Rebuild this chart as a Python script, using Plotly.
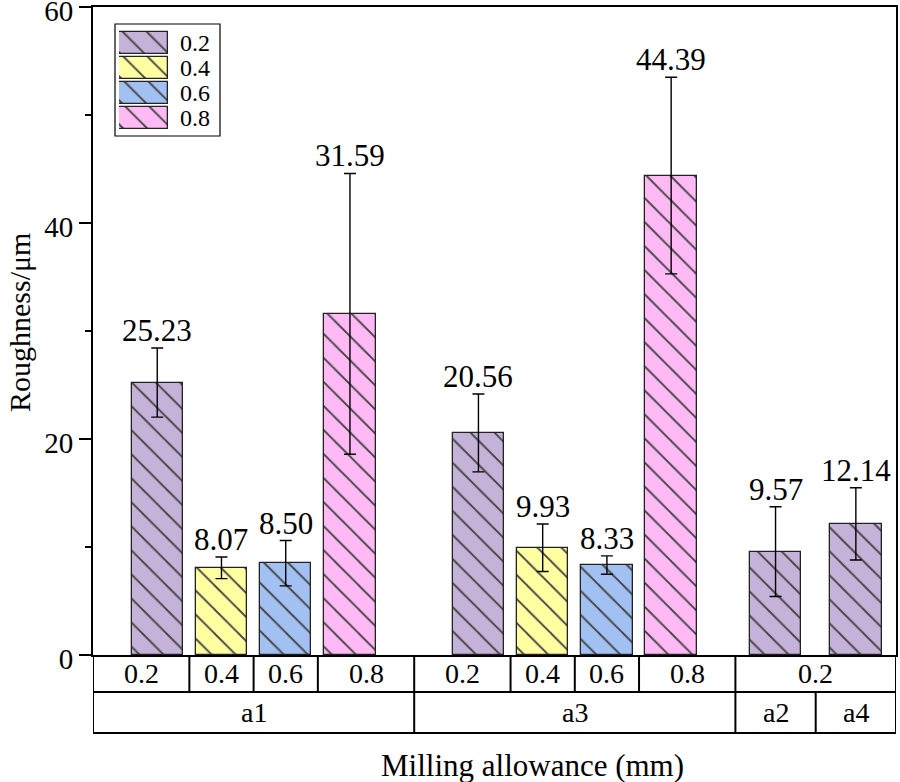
import plotly.graph_objects as go

# data
groups = ["a1", "a1", "a1", "a1", "a3", "a3", "a3", "a3", "a2", "a4"]
allowance = ["0.2", "0.4", "0.6", "0.8", "0.2", "0.4", "0.6", "0.8", "0.2", "0.2"]
roughness = [25.23, 8.07, 8.50, 31.59, 20.56, 9.93, 8.33, 44.39, 9.57, 12.14]
errors = [3.2, 1.0, 2.1, 13.0, 3.6, 2.2, 0.85, 9.1, 4.15, 3.35]
value_labels = ["25.23", "8.07", "8.50", "31.59", "20.56", "9.93", "8.33", "44.39", "9.57", "12.14"]
legend_names = ["0.2", "0.4", "0.6", "0.8"]

fill = {"0.2": "#C4B2D8", "0.4": "#FFFFA2", "0.6": "#A2C0F2", "0.8": "#FFBAF6"}
SERIF = "Liberation Serif, Times New Roman, serif"

# axis span given to each group (layout only)
group_span = {"a1": 5.0, "a3": 5.0, "a2": 1.25, "a4": 1.25}

# work out bar positions and table cells
order = []
for g in groups:
    if g not in order:
        order.append(g)
xpos, cells, gedges = [None] * len(groups), [None] * len(groups), []
start = 0.0
for g in order:
    idx = [i for i, gg in enumerate(groups) if gg == g]
    end = start + group_span[g]
    gedges.append((g, start, end))
    if len(idx) == 1:
        xpos[idx[0]] = (start + end) / 2
        cells[idx[0]] = [start, end]
    else:
        for k, i in enumerate(idx):
            xpos[i] = start + 1 + k
        for k, i in enumerate(idx):
            lo = start if k == 0 else xpos[i] - 0.5
            hi = end if k == len(idx) - 1 else xpos[i] + 0.5
            cells[i] = [lo, hi]
    start = end
xmax = start

# merge neighbouring single-bar cells sharing the same allowance
row1 = []
for i, c in enumerate(cells):
    if row1 and row1[-1][0] == allowance[i] and groups[i] != groups[i - 1]:
        row1[-1][2] = c[1]
    else:
        row1.append([allowance[i], c[0], c[1]])

W, H = 900, 782
ML, MR, MT, MB = 93, 4, 7, 127
ph = H - MT - MB
pw = W - ML - MR
Y0 = H - MB          # pixel row of y = 0
row_h1 = 37 / ph
row_h2 = 78 / ph


def px_x(p):
    return (p - ML) / pw


def px_y(p):
    return (Y0 - p) / ph


pat = dict(shape="\\", size=17, solidity=0.11, fgcolor="black", fgopacity=1, fillmode="overlay")

fig = go.Figure()
fig.add_trace(go.Bar(
    x=xpos, y=roughness, width=0.8,
    marker=dict(color=[fill[a] for a in allowance],
                line=dict(color="#222222", width=1.3), pattern=pat),
    error_y=dict(type="data", array=errors, color="black", thickness=1.4, width=6),
    showlegend=False,
))

# legend swatches as a tiny horizontal bar chart
fig.add_trace(go.Bar(
    x=[1] * len(legend_names), y=legend_names, orientation="h", width=0.88,
    xaxis="x2", yaxis="y2",
    marker=dict(color=[fill[n] for n in legend_names],
                line=dict(color="#222222", width=1.3), pattern=pat),
    showlegend=False, hoverinfo="skip",
))

annotations = []
for x, v, e, t in zip(xpos, roughness, errors, value_labels):
    annotations.append(dict(x=x, y=v + e, text=t, showarrow=False, xanchor="center",
                            yanchor="bottom", yshift=-2,
                            font=dict(family=SERIF, size=31, color="black")))
for name, lo, hi in row1:
    annotations.append(dict(x=(lo + hi) / 2, y=-row_h1 / 2, yref="paper", text=name,
                            xanchor="center", yanchor="middle", showarrow=False,
                            font=dict(family=SERIF, size=28, color="black")))
for g, lo, hi in gedges:
    annotations.append(dict(x=(lo + hi) / 2, y=-(row_h1 + row_h2) / 2, yref="paper", text=g,
                            xanchor="center", yanchor="middle", showarrow=False,
                            font=dict(family=SERIF, size=28, color="black")))
for i, n in enumerate(legend_names):
    annotations.append(dict(x=px_x(178), xref="paper", y=i, yref="y2", text=n,
                            xanchor="left", yanchor="middle", showarrow=False,
                            font=dict(family=SERIF, size=24, color="black")))
annotations.append(dict(x=px_x(532), xref="paper", y=px_y(765), yref="paper",
                        text="Milling allowance (mm)", showarrow=False,
                        xanchor="center", yanchor="middle",
                        font=dict(family=SERIF, size=31, color="black")))
annotations.append(dict(x=px_x(20), xref="paper", y=px_y(323), yref="paper",
                        text="Roughness/μm", textangle=-90, showarrow=False,
                        xanchor="center", yanchor="middle",
                        font=dict(family=SERIF, size=30, color="black")))

# category table under the axis
shapes = []
line = dict(color="black", width=2)
for yv in (-row_h1, -row_h2):
    shapes.append(dict(type="line", xref="x", yref="paper", x0=0, x1=xmax, y0=yv, y1=yv, line=line))
edges1 = sorted({e for _, lo, hi in row1 for e in (lo, hi)})
for e in edges1:
    shapes.append(dict(type="line", xref="x", yref="paper", x0=e, x1=e, y0=0, y1=-row_h1, line=line))
edges2 = sorted({e for _, lo, hi in gedges for e in (lo, hi)})
for e in edges2:
    shapes.append(dict(type="line", xref="x", yref="paper", x0=e, x1=e, y0=-row_h1, y1=-row_h2, line=line))
# legend frame
shapes.append(dict(type="rect", xref="paper", yref="paper",
                   x0=px_x(115), x1=px_x(220), y0=px_y(136), y1=px_y(24),
                   line=dict(color="black", width=1.2), fillcolor="rgba(0,0,0,0)", layer="below"))

fig.update_layout(
    width=W, height=H,
    margin=dict(l=ML, r=MR, t=MT, b=MB),
    plot_bgcolor="white", paper_bgcolor="white",
    annotations=annotations, shapes=shapes,
    xaxis=dict(range=[0, xmax], showticklabels=False, ticks="", showgrid=False, zeroline=False,
               showline=True, mirror=True, linecolor="black", linewidth=2, automargin=False),
    yaxis=dict(range=[0, 60], dtick=20, ticks="outside", ticklen=12, tickwidth=2, tickcolor="black",
               showgrid=False, zeroline=False, showline=True, mirror=True, linecolor="black",
               linewidth=2, tickfont=dict(family=SERIF, size=29, color="black"),
               ticklabeloverflow="allow", ticklabelshift=4, automargin=False,
               minor=dict(dtick=10, ticks="outside", ticklen=6, tickwidth=2, tickcolor="black",
                          showgrid=False)),
    xaxis2=dict(domain=[px_x(119), px_x(168)], range=[0, 1], anchor="y2",
                visible=False, fixedrange=True),
    yaxis2=dict(domain=[px_y(133), px_y(28)], anchor="x2", type="category",
                categoryorder="array", categoryarray=legend_names, autorange="reversed",
                visible=False, fixedrange=True),
    bargap=0,
)

# drop the browser's default 8px body margin so the figure sits at the page corner
fig.write_html("out.html", config={"displayModeBar": False},
               post_script="document.body.style.margin = '0';")
